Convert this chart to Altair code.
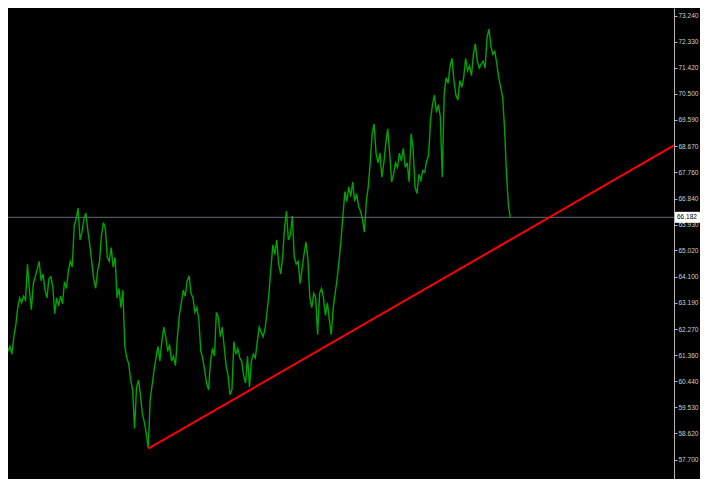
import altair as alt
import pandas as pd

# Close prices (one reading every ~2 px of the original)
prices = [
    61.49, 61.66, 61.39, 62.00, 62.41, 63.02, 63.36, 63.19, 63.42, 63.29,
    64.54, 63.63, 62.95, 63.86, 64.10, 64.37, 64.64, 63.96, 64.20, 63.63,
    63.36, 64.03, 64.10, 63.76, 62.81, 63.36, 63.08, 63.42, 63.15, 63.93,
    63.69, 64.30, 64.64, 64.44, 65.89, 66.13, 66.50, 65.39, 65.66, 66.13,
    66.33, 65.72, 65.22, 64.64, 64.03, 63.69, 64.30, 64.64, 65.55, 66.00,
    65.79, 64.78, 64.64, 65.12, 64.44, 64.78, 63.36, 63.69, 63.02, 63.63,
    61.66, 61.26, 61.05, 60.48, 60.14, 58.79, 60.24, 60.48, 59.97, 59.29,
    59.02, 58.62, 58.11, 59.80, 60.31, 60.82, 61.26, 61.66, 61.15, 61.83,
    62.34, 62.00, 61.49, 61.73, 61.15, 61.32, 60.99, 62.00, 62.75, 63.19,
    63.63, 63.42, 63.96, 64.13, 63.52, 63.36, 62.85, 63.02, 62.61, 61.49,
    61.26, 60.82, 60.38, 60.14, 61.15, 61.59, 61.32, 62.85, 62.68, 62.00,
    62.34, 61.66, 60.99, 60.65, 59.97, 60.14, 61.83, 61.39, 61.59, 61.26,
    61.15, 60.65, 60.38, 61.32, 60.24, 61.15, 61.39, 61.26, 61.83, 62.34,
    62.17, 62.00, 62.27, 62.85, 63.52, 64.37, 65.22, 64.88, 65.39, 64.54,
    64.20, 64.78, 65.79, 66.40, 65.39, 65.55, 66.23, 64.78, 64.54, 64.64,
    63.86, 64.37, 64.88, 65.32, 64.71, 63.36, 63.02, 63.52, 63.36, 62.07,
    63.52, 63.69, 63.36, 62.75, 63.19, 62.61, 62.07, 63.02, 63.52, 64.03,
    64.64, 65.39, 66.23, 67.08, 66.74, 67.25, 66.91, 67.42, 66.74, 67.01,
    66.57, 66.40, 66.13, 65.66, 66.74, 67.25, 68.09, 69.11, 69.45, 68.43,
    68.09, 68.43, 67.59, 68.09, 68.77, 69.28, 68.43, 67.42, 67.69, 68.09,
    67.93, 68.43, 68.16, 68.60, 67.93, 68.09, 67.42, 69.11, 68.60, 67.25,
    67.01, 67.69, 67.48, 67.82, 67.76, 68.16, 68.36, 69.62, 70.13, 70.46,
    69.85, 70.13, 69.72, 67.59, 70.53, 71.07, 70.87, 71.48, 71.75, 70.97,
    70.46, 70.29, 70.97, 70.73, 71.07, 71.75, 71.31, 71.48, 71.14, 71.89,
    72.26, 71.65, 71.41, 71.55, 71.65, 71.41, 72.49, 72.77, 72.16, 71.89,
    71.99, 71.55, 71.07, 70.73, 70.40, 69.28, 67.69, 66.57, 66.182,
]

# Trend line anchor points (bar index, price)
trend_x = [72, 342]
trend_y = [58.08, 68.70]

current_price = 66.182
current_label = "66.182"

axis_ticks = [73.24, 72.33, 71.42, 70.50, 69.59, 68.67, 67.76, 66.84, 65.93,
              65.02, 64.10, 63.19, 62.27, 61.36, 60.44, 59.53, 58.62, 57.70]

y_domain = [57.02, 73.51]
x_domain = [0, 342]

price_df = pd.DataFrame({"i": list(range(len(prices))), "p": prices})
trend_df = pd.DataFrame({"i": trend_x, "p": trend_y})
cur_df = pd.DataFrame({"p": [current_price], "t": [current_label]})

W, H = 666, 471
RP = 26

xs = alt.Scale(domain=x_domain, nice=False, zero=False)
ys = alt.Scale(domain=y_domain, nice=False, zero=False)

yaxis = alt.Axis(
    orient="right", values=axis_ticks, format=".3f", grid=False,
    domainColor="#b4b4b4", domainWidth=1, tickColor="#b4b4b4", tickSize=3,
    labelColor="#d0d0d0", labelFont="Liberation Sans", labelFontSize=6.5,
    labelPadding=1, labelOverlap=False, labelBound=False, labelFlush=False,
    title=None,
)

price_line = alt.Chart(price_df).mark_line(
    color="#00a400", strokeWidth=1.4, clip=True
).encode(
    x=alt.X("i:Q", scale=xs, axis=None),
    y=alt.Y("p:Q", scale=ys, axis=yaxis),
)

cur_rule = alt.Chart(cur_df).mark_rule(color="#646c7a", strokeWidth=1).encode(
    y=alt.Y("p:Q", scale=ys, axis=yaxis),
)

trend = alt.Chart(trend_df).mark_line(color="#ff0000", strokeWidth=2).encode(
    x=alt.X("i:Q", scale=xs, axis=None),
    y=alt.Y("p:Q", scale=ys, axis=yaxis),
)

cur_box = alt.Chart(cur_df).mark_rect(color="#ffffff", height=11).encode(
    x=alt.value(W + 1),
    x2=alt.value(W + RP),
    y=alt.Y("p:Q", scale=ys, axis=yaxis),
)

cur_text = alt.Chart(cur_df).mark_text(
    color="#000000", font="Liberation Sans", fontSize=6.5, align="left",
    baseline="middle",
).encode(
    x=alt.value(W + 3),
    y=alt.Y("p:Q", scale=ys, axis=yaxis),
    text="t:N",
)

chart = alt.layer(price_line, cur_rule, trend, cur_box, cur_text).properties(
    width=W, height=H, background="#000000",
    padding={"left": 0, "top": 0, "right": RP, "bottom": 0},
    autosize=alt.AutoSizeParams(type="none"),
).configure_view(stroke=None, fill="#000000").configure_axis(labelOverlap=False)

chart.save("out.html", embed_options={"renderer": "svg", "actions": False})
